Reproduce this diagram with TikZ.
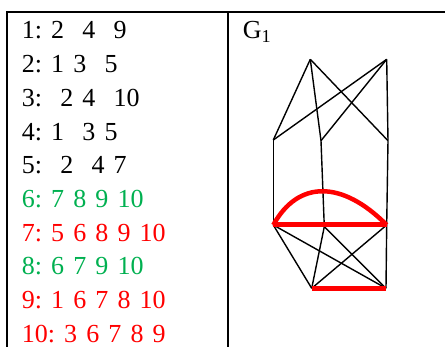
\documentclass[tikz,border=0pt]{standalone}
\usepackage{fontspec}
\setmainfont{Liberation Serif}[WordSpace=1.4]

\begin{document}
\begin{tikzpicture}[x=1pt, y=-1pt]
    \definecolor{mygreen}{RGB}{0,176,80}
    \definecolor{myred}{RGB}{255,0,0}
    \tikzset{
        row/.style={anchor=base west, inner sep=0pt, font=\fontsize{26}{30}\selectfont},
        edge/.style={line width=1.4pt},
        hotedge/.style={myred, line width=5pt}
    }
    \useasboundingbox (0,0) rectangle (445,347);

    % table frame
    \draw[line width=2pt] (7,347) -- (7,12) -- (445,12);
    \draw[line width=2pt] (228,12) -- (228,347);

    % adjacency lists
    \node[row] (r1) at (21.7,39.0) {1:~2~~4~~9};
    \node[row] (r2) at (21.7,72.7) {2:~1~3~~5};
    \node[row] (r3) at (21.7,106.4) {3:~~2~4~~10};
    \node[row] (r4) at (21.7,140.1) {4:~1~~3~5};
    \node[row] (r5) at (21.7,173.8) {5:~~2~~4~7};
    \node[row, mygreen] (r6) at (21.7,207.5) {6:~7~8~9~10};
    \node[row, myred] (r7) at (21.7,241.2) {7:~5~6~8~9~10};
    \node[row, mygreen] (r8) at (21.7,274.9) {8:~6~7~9~10};
    \node[row, myred] (r9) at (21.7,308.6) {9:~1~6~7~8~10};
    \node[row, myred] (r10) at (21.7,342.3) {10:~3~6~7~8~9};

    \node[row] (gname) at (242.7,39.0) {G\textsubscript{1}};

    % graph
    \coordinate (tl) at (310.3,59.3);
    \coordinate (tr) at (386.7,59.3);
    \coordinate (ml) at (273.3,140.0);
    \coordinate (mc) at (321.0,140.7);
    \coordinate (mr) at (388.0,140.7);
    \coordinate (ll) at (273.3,225.0);
    \coordinate (lc) at (324.3,226.7);
    \coordinate (lr) at (386.7,225.0);
    \coordinate (bl) at (311.7,288.3);
    \coordinate (br) at (386.0,288.3);

    \draw[edge] (tl) -- (ml);
    \draw[edge] (tl) -- (mc);
    \draw[edge] (tl) -- (mr);
    \draw[edge] (tr) -- (ml);
    \draw[edge] (tr) -- (mc);
    \draw[edge] (tr) -- (mr);
    \draw[edge] (ml) -- (ll);
    \draw[edge] (mc) -- (lc);
    \draw[edge] (mr) -- (lr);
    \draw[edge] (ll) -- (bl);
    \draw[edge] (ll) -- (br);
    \draw[edge] (lc) -- (bl);
    \draw[edge] (lc) -- (br);
    \draw[edge] (lr) -- (bl);
    \draw[edge] (lr) -- (br);

    \draw[hotedge] (ll) -- (lr);
    \draw[hotedge, line width=4.5pt] (ll) .. controls (298,180) and (342,180) .. (lr);
    \draw[hotedge] (bl) -- (br);
\end{tikzpicture}
\end{document}
